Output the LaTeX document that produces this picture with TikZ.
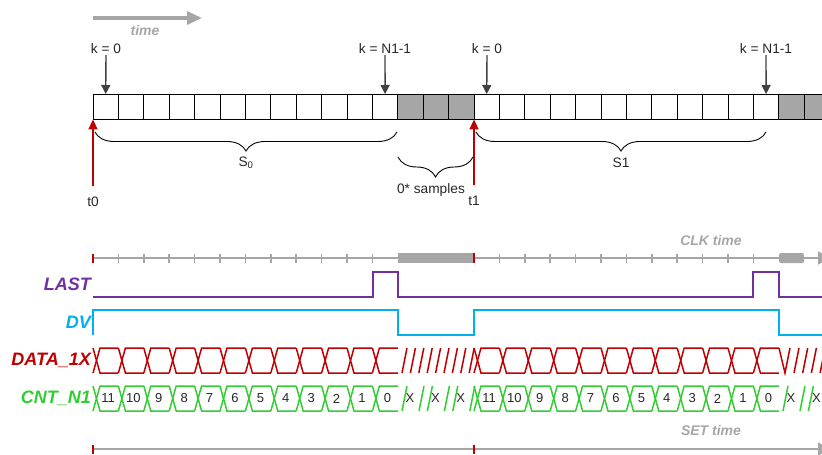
\documentclass[tikz,border=0pt]{standalone}
\usepackage{fontspec}
\setmainfont{Liberation Sans}
\usetikzlibrary{arrows.meta,decorations.pathreplacing,positioning}
\definecolor{lastpurple}{RGB}{112,48,160}
\definecolor{dvcyan}{RGB}{0,176,240}
\definecolor{datared}{RGB}{192,0,0}
\definecolor{cntgreen}{RGB}{51,204,51}
\definecolor{axisgray}{RGB}{166,166,166}
\definecolor{arrowdark}{RGB}{64,64,64}
\definecolor{cellgray}{RGB}{166,166,166}
\tikzset{
  cellbox/.style={draw=black, line width=0.9pt, minimum width=25.4pt,
                  minimum height=25.4pt, inner sep=0pt, outer sep=0pt},
  pointer/.style={draw=arrowdark, line width=1.4pt,
                  -{Triangle[length=9pt,width=9pt]}},
  tarrow/.style={draw=datared, line width=1.6pt,
                 -{Triangle[length=10pt,width=9pt]}},
  curly/.style={draw=black, line width=0.9pt,
                decorate, decoration={brace, mirror, amplitude=19pt}},
  lab/.style={font=\fontsize{13.7}{16}\selectfont, text=black!85, inner sep=1pt},
  val/.style={font=\fontsize{13}{15}\selectfont, text=black!85, inner sep=0pt},
  siglab/.style={font=\fontsize{18}{20}\selectfont\bfseries\itshape,
                 anchor=east, inner sep=0pt},
  axislab/.style={font=\fontsize{14}{16}\selectfont\bfseries\itshape,
                  text=axisgray, inner sep=0pt},
  axis/.style={draw=axisgray, line width=2pt,
               -{Triangle[length=12pt,width=13pt]}},
  clktick/.style={draw=axisgray, line width=1.6pt},
  redtick/.style={draw=datared, line width=2.4pt},
  bus/.style={line width=1.5pt},
}
\begin{document}
\begin{tikzpicture}[x=1pt,y=-1pt]
  \useasboundingbox (0,0) rectangle (822,455);
  \clip (0,0) rectangle (822,455);

  % time direction
  \draw[draw=axisgray, line width=3.3pt, -{Triangle[length=15pt,width=13pt]}]
    (93,18) -- (202,18);
  \node[axislab] (timelab) at (145,30) {time};

  % sample cells
  \foreach \i in {0,...,29} {
    \pgfmathtruncatemacro\seg{mod(\i,15)}
    \ifnum\seg>11 \def\fillc{cellgray}\else\def\fillc{white}\fi
    \node[cellbox, fill=\fillc] (cell\i) at (93+25.4*\i+12.7,106.7) {};
  }

  % index pointers
  \node[lab] (k0a) at (106,49) {k = 0};
  \node[lab] (kNa) at (385,49) {k = N1-1};
  \node[lab] (k0b) at (487,49) {k = 0};
  \node[lab] (kNb) at (766,49) {k = N1-1};
  \draw[pointer] (k0a.south) -- (cell0.north);
  \draw[pointer] (kNa.south) -- (cell11.north);
  \draw[pointer] (k0b.south) -- (cell15.north);
  \draw[pointer] (kNb.south) -- (cell26.north);

  % set start instants
  \node[lab] (t0) at (93,202) {t0};
  \node[lab] (t1) at (474,201) {t1};
  \draw[tarrow] ([yshift=10pt]t0.north) -- (cell0.south west);
  \draw[tarrow] ([yshift=10pt]t1.north) -- (cell15.south west);

  % groupings
  \draw[curly] (95,132) -- (397,132);
  \node[lab] (s0) at (246,163) {S\textsubscript{0}};
  \draw[curly, decoration={amplitude=20pt}] (398,157) -- (473,157);
  \node[lab] (zeros) at (431,190) {0* samples};
  \draw[curly] (476,132) -- (766,132);
  \node[lab] (s1) at (621,163) {S1};

  % CLK time axis
  \draw[axis] (93,258) -- (830,258);
  \fill[axisgray] (398,253) rectangle (474,263);
  \fill[axisgray, rounded corners=2pt] (779,253) rectangle (804,263);
  \foreach \s in {93,474}
    \foreach \i in {1,...,11}
      \draw[clktick] (\s+25.4*\i,254) -- ++(0,9);
  \draw[redtick] (93,254) -- (93,263);
  \draw[redtick] (474,253) -- (474,263);
  \node[axislab] (clklab) at (711,240) {CLK time};

  % LAST
  \node[siglab, text=lastpurple] (lastlab) at (91,284) {LAST};
  \draw[lastpurple, bus] (93,297) -- (373,297) -- (373,272) -- (398,272)
    -- (398,297) -- (753,297) -- (753,272) -- (779,272) -- (779,297) -- (830,297);

  % DV
  \node[siglab, text=dvcyan] (dvlab) at (91,322) {DV};
  \draw[dvcyan, bus] (93,335) -- (93,310) -- (398,310) -- (398,335) -- (474,335)
    -- (474,310) -- (779,310) -- (779,335) -- (830,335);

  % DATA_1X
  \node[siglab, text=datared] (datalab) at (91,360) {DATA\_1X};
  \foreach \s in {93,474}
    \foreach \i in {0,...,11} {
      \draw[datared, bus] (\s+25.4*\i,348) -- (\s+25.4*\i+7,373) -- (\s+25.4*\i+25.4,373);
      \draw[datared, bus] (\s+25.4*\i,373) -- (\s+25.4*\i+7,348) -- (\s+25.4*\i+25.4,348);
    }
  \foreach \j in {0,...,8}
    \draw[datared, bus] (402+8.4*\j,373) -- ++(5,-25);
  \draw[datared, bus] (779,348) -- (785,373) -- (790,348);
  \foreach \j in {0,...,3}
    \draw[datared, bus] (794+8.7*\j,373) -- ++(5,-25);

  % CNT_N1
  \node[siglab, text=cntgreen] (cntlab) at (91,398) {CNT\_N1};
  \foreach \s in {93,474}
    \foreach \v [count=\i from 0] in {11,10,9,8,7,6,5,4,3,2,1,0} {
      \draw[cntgreen, bus] (\s+25.4*\i,386) -- (\s+25.4*\i+7,411) -- (\s+25.4*\i+25.4,411);
      \draw[cntgreen, bus] (\s+25.4*\i,411) -- (\s+25.4*\i+7,386) -- (\s+25.4*\i+25.4,386);
      \node[val] (cnt-\s-\i) at (\s+25.4*\i+15,398.5) {\v};
    }
  \foreach \c [count=\n] in {398,423.4,448.8,779,804.4} {
    \draw[cntgreen, bus] (\c+4,411) -- ++(5,-25);
    \node[val] (unk\n) at (\c+12,398.5) {X};
    \draw[cntgreen, bus] (\c+21,411) -- ++(5,-25);
  }

  % SET time axis
  \draw[axis] (93,449) -- (830,449);
  \draw[redtick] (93,445) -- (93,454);
  \draw[redtick] (474,445) -- (474,454);
  \node[axislab] (setlab) at (711,430) {SET time};
\end{tikzpicture}
\end{document}
